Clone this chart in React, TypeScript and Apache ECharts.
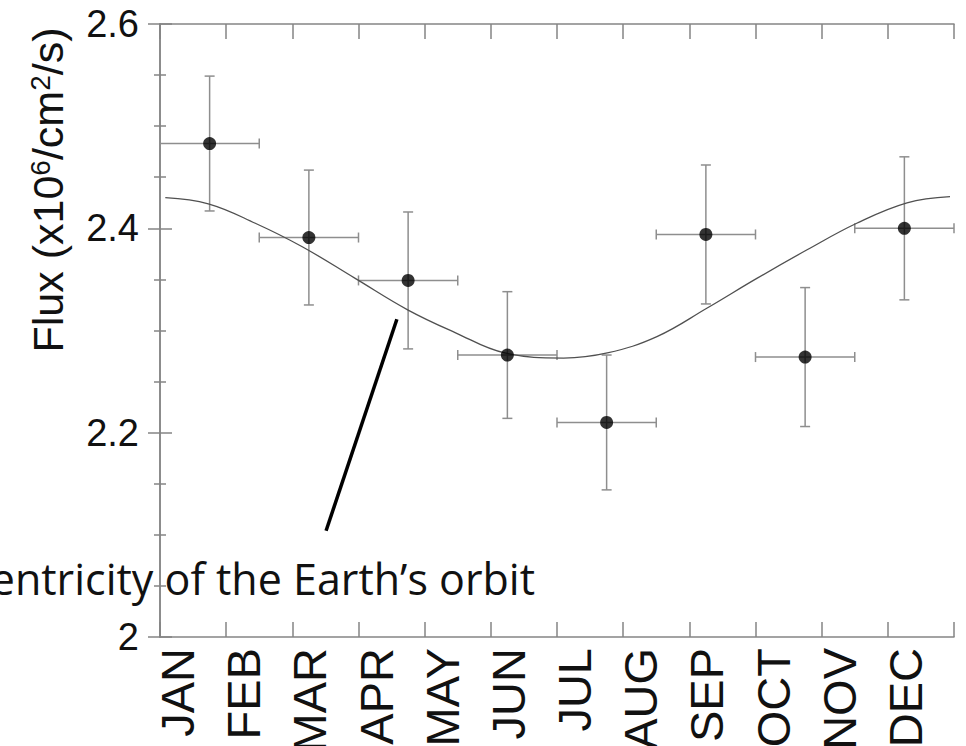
import React, { useEffect, useRef } from "react";
import * as echarts from "echarts";

// Month names along the bottom axis (one per month boundary tick)
const months = ["JAN", "FEB", "MAR", "APR", "MAY", "JUN", "JUL", "AUG", "SEP", "OCT", "NOV", "DEC"];

// Measured flux in 1.5-month bins (x in months from Jan 1)
const binCenters = [0.75, 2.25, 3.75, 5.25, 6.75, 8.25, 9.75, 11.25];
const binHalfWidths = [0.75, 0.75, 0.75, 0.75, 0.75, 0.75, 0.75, 0.75];
const flux = [2.483, 2.391, 2.349, 2.276, 2.21, 2.394, 2.274, 2.4];
const fluxErr = [0.066, 0.066, 0.067, 0.062, 0.066, 0.068, 0.068, 0.07];

// Expected variation from the eccentricity of the Earth's orbit
const modelMonths = [0.08, 0.73, 1.44, 2.15, 2.95, 3.75, 4.46, 5.21, 6.1, 6.76, 7.51, 8.27, 9.02, 9.78, 10.53, 11.29, 11.94];
const modelFlux = [2.43, 2.424, 2.405, 2.382, 2.351, 2.32, 2.298, 2.278, 2.273, 2.278, 2.294, 2.322, 2.351, 2.379, 2.405, 2.425, 2.431];

// Leader line from the caption to the model curve: [month, flux]
const leaderFrom = [2.51, 2.104];
const leaderTo = [3.58, 2.311];

const yTicks = { min: 2, max: 2.6, step: 0.2 };

const AXIS_GREY = "#858585";
const BAR_GREY = "#8e8e8e";
const SANS = "'Liberation Sans', Arial, Helvetica, sans-serif";

export default function App() {
  const ref = useRef<HTMLDivElement>(null);

  useEffect(() => {
    if (!ref.current) return;
    const chart = echarts.init(ref.current, undefined, { renderer: "svg" });

    const errorData = binCenters.map((x, i) => [x, flux[i], binHalfWidths[i], fluxErr[i]]);
    const pointData = binCenters.map((x, i) => [x, flux[i]]);
    const modelData = modelMonths.map((m, i) => [m, modelFlux[i]]);

    const xAxisBase = {
      type: "value",
      min: 0,
      max: 12,
      interval: 1,
      splitLine: { show: false },
      axisLine: { show: true, lineStyle: { color: AXIS_GREY, width: 1.5 } },
      axisTick: { show: true, inside: true, length: 15, lineStyle: { color: AXIS_GREY, width: 1.5 } },
    };
    const yAxisBase = {
      type: "value",
      min: yTicks.min,
      max: yTicks.max,
      interval: yTicks.step,
      splitLine: { show: false },
      axisLine: { show: true, lineStyle: { color: AXIS_GREY, width: 1.5 } },
      axisTick: { show: true, inside: true, length: 12, lineStyle: { color: AXIS_GREY, width: 1.5 } },
      minorTick: { show: true, splitNumber: 4, length: 6, lineStyle: { color: AXIS_GREY, width: 1.5 } },
      minorSplitLine: { show: false },
    };

    chart.setOption({
      animation: false,
      backgroundColor: "#ffffff",
      grid: { left: 160, top: 24, right: 12, bottom: 109, show: false, outerBoundsMode: "none", containLabel: false },
      xAxis: [
        {
          ...xAxisBase,
          position: "bottom",
          axisLabel: {
            show: true,
            rotate: 90,
            margin: 11,
            verticalAlign: "top",
            lineHeight: 35,
            fontSize: 47,
            fontFamily: SANS,
            color: "#111",
            formatter: (v: number) => months[Math.round(v)] ?? "",
          },
        },
        { ...xAxisBase, position: "top", axisLabel: { show: false } },
      ],
      yAxis: [
        {
          ...yAxisBase,
          position: "left",
          axisLabel: {
            show: true,
            margin: 21,
            fontSize: 38,
            fontFamily: SANS,
            color: "#111",
            formatter: (v: number) => String(+v.toFixed(1)),
          },
        },
        { ...yAxisBase, position: "right", axisLabel: { show: false } },
      ],
      series: [
        {
          type: "custom",
          name: "errors",
          xAxisIndex: 0,
          yAxisIndex: 0,
          data: errorData,
          encode: { x: 0, y: 1 },
          z: 2,
          renderItem: (_params: any, api: any) => {
            const x = api.value(0);
            const y = api.value(1);
            const xe = api.value(2);
            const ye = api.value(3);
            const l = api.coord([x - xe, y]);
            const r = api.coord([x + xe, y]);
            const t = api.coord([x, y + ye]);
            const b = api.coord([x, y - ye]);
            const cap = 5;
            const style = { stroke: BAR_GREY, lineWidth: 1.5, fill: "none" };
            return {
              type: "group",
              children: [
                { type: "line", shape: { x1: l[0], y1: l[1], x2: r[0], y2: r[1] }, style },
                { type: "line", shape: { x1: l[0], y1: l[1] - cap, x2: l[0], y2: l[1] + cap }, style },
                { type: "line", shape: { x1: r[0], y1: r[1] - cap, x2: r[0], y2: r[1] + cap }, style },
                { type: "line", shape: { x1: t[0], y1: t[1], x2: b[0], y2: b[1] }, style },
                { type: "line", shape: { x1: t[0] - cap, y1: t[1], x2: t[0] + cap, y2: t[1] }, style },
                { type: "line", shape: { x1: b[0] - cap, y1: b[1], x2: b[0] + cap, y2: b[1] }, style },
              ],
            };
          },
        },
        {
          type: "line",
          name: "model",
          xAxisIndex: 0,
          yAxisIndex: 0,
          data: modelData,
          smooth: 0.4,
          showSymbol: false,
          symbol: "none",
          z: 3,
          lineStyle: { color: "#505050", width: 1.3 },
          markLine: {
            silent: true,
            symbol: ["none", "none"],
            label: { show: false },
            lineStyle: { color: "#000", width: 3.5, type: "solid" },
            data: [[{ coord: leaderFrom }, { coord: leaderTo }]],
          },
        },
        {
          type: "scatter",
          name: "flux",
          xAxisIndex: 0,
          yAxisIndex: 0,
          data: pointData,
          symbol: "circle",
          symbolSize: 13,
          z: 4,
          itemStyle: { color: "#000" },
        },
      ],
      graphic: [
        {
          type: "text",
          x: 48,
          y: 190,
          rotation: Math.PI / 2,
          style: {
            text: "Flux (x10{sup|6}/cm{sup|2}/s)",
            fontSize: 43,
            fontFamily: SANS,
            fill: "#111",
            align: "center",
            verticalAlign: "middle",
            rich: {
              sup: { fontSize: 28, fontFamily: SANS, fill: "#111", verticalAlign: "top", lineHeight: 30 },
            },
          },
        },
        {
          type: "text",
          x: 535,
          y: 578,
          style: {
            text: "Eccentricity of the Earth\u2019s orbit",
            fontSize: 43,
            fontFamily: "'Open Sans', Lato, sans-serif",
            fill: "#111",
            align: "right",
            verticalAlign: "middle",
          },
        },
      ],
    });

    return () => chart.dispose();
  }, []);

  return (
    <div
      ref={ref}
      style={{ position: "fixed", left: 0, top: 0, width: 966, height: 746 }}
    />
  );
}
